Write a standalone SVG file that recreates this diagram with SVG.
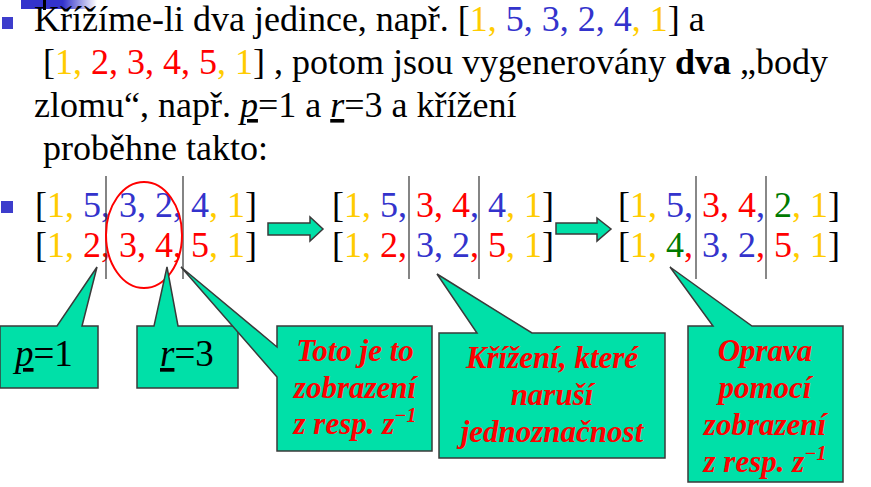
<svg xmlns="http://www.w3.org/2000/svg" width="871" height="487" viewBox="0 0 871 487">
  <style>
    .t { font-family: "Liberation Serif", "Times New Roman", serif; font-size: 36px; fill: #000; }
    .y { fill: #FFCC00; }
    .b { fill: #3333CC; }
    .r { fill: #FF0000; }
    .g { fill: #007A00; }
    .call { fill: #00E0A8; stroke: #3a3a3a; stroke-width: 1.5; stroke-linejoin: miter; }
    .note { font-family: "Liberation Serif", "Times New Roman", serif; font-size: 31px; font-weight: bold; font-style: italic; fill: #FF0000; text-anchor: middle; }
    .lbl { font-family: "Liberation Serif", "Times New Roman", serif; font-size: 37px; fill: #000; }
    .sep { stroke: #333; stroke-width: 1.2; }
    .sep2 { stroke: #888; stroke-width: 2; }
    .bullet { fill: #3d3dcc; }
  </style>
  <defs>
    <linearGradient id="barFade" x1="0" y1="0" x2="1" y2="0">
      <stop offset="0" stop-color="#3333cc"/>
      <stop offset="0.55" stop-color="#3333cc"/>
      <stop offset="1" stop-color="#3333cc" stop-opacity="0"/>
    </linearGradient>
  </defs>

  <rect width="871" height="487" fill="#fff"/>

  <!-- slide header remnant -->
  <rect x="21" y="0" width="76" height="9" fill="url(#barFade)"/>
  <rect x="43" y="0" width="3" height="10" fill="#000"/>

  <!-- bullets -->
  <rect class="bullet" x="2" y="17" width="11" height="12"/>
  <rect class="bullet" x="1" y="201" width="12" height="12"/>

  <!-- introductory paragraph -->
  <g id="intro">
    <text class="t" x="34" y="31">Křížíme-li dva jedince, např. [<tspan class="y">1, </tspan><tspan class="b">5, 3, 2, 4</tspan><tspan class="y">, 1</tspan>] a</text>
    <text class="t" x="43" y="74">[<tspan class="y">1, </tspan><tspan class="r">2, 3, 4, 5</tspan><tspan class="y">, 1</tspan>] , potom jsou vygenerovány <tspan font-weight="bold">dva</tspan> „body</text>
    <text class="t" x="34" y="117">zlomu“, např. <tspan font-style="italic" text-decoration="underline">p</tspan>=1 a <tspan font-style="italic" text-decoration="underline">r</tspan>=3 a křížení</text>
    <text class="t" x="43" y="160">proběhne takto:</text>
  </g>

  <!-- parents -->
  <g id="parents">
    <text class="t" x="35" y="217">[<tspan class="y">1, </tspan><tspan class="b">5, 3, 2, 4</tspan><tspan class="y">, 1</tspan>]</text>
    <text class="t" x="35" y="257">[<tspan class="y">1, </tspan><tspan class="r">2, 3, 4, 5</tspan><tspan class="y">, 1</tspan>]</text>
    <line class="sep" x1="106" y1="176" x2="106" y2="279"/>
    <line class="sep" x1="183" y1="176" x2="183" y2="279"/>
    <ellipse cx="144" cy="235" rx="38" ry="53" fill="none" stroke="#FF0000" stroke-width="2"/>
  </g>

  <!-- offspring after crossover -->
  <g id="offspring">
    <text class="t" x="332" y="217">[<tspan class="y">1, </tspan><tspan class="b">5, </tspan><tspan class="r">3, 4</tspan><tspan class="b">, 4</tspan><tspan class="y">, 1</tspan>]</text>
    <text class="t" x="332" y="257">[<tspan class="y">1, </tspan><tspan class="r">2, </tspan><tspan class="b">3, 2</tspan><tspan class="r">, 5</tspan><tspan class="y">, 1</tspan>]</text>
    <line class="sep" x1="409" y1="176" x2="409" y2="279"/>
    <line class="sep" x1="479" y1="176" x2="479" y2="279"/>
  </g>

  <!-- repaired offspring -->
  <g id="repaired">
    <text class="t" x="618" y="217">[<tspan class="y">1, </tspan><tspan class="b">5, </tspan><tspan class="r">3, 4</tspan><tspan class="b">, </tspan><tspan class="g">2</tspan><tspan class="y">, 1</tspan>]</text>
    <text class="t" x="618" y="257">[<tspan class="y">1, </tspan><tspan class="g">4</tspan><tspan class="r">, </tspan><tspan class="b">3, 2</tspan><tspan class="r">, 5</tspan><tspan class="y">, 1</tspan>]</text>
    <line class="sep2" x1="696" y1="176" x2="696" y2="279"/>
    <line class="sep2" x1="766" y1="176" x2="766" y2="279"/>
  </g>

  <!-- block arrows between stages -->
  <g id="connectors">
    <polygon class="call" points="268,223 310,223 310,217 323,229 310,241 310,235 268,235"/>
    <polygon class="call" points="556,223 597,223 597,218 611,229 597,241 597,234 556,234"/>
  </g>

  <!-- callouts -->
  <g id="callout-p">
    <path class="call" d="M0,326 L57,326 L97,267 L82,326 L98,326 L98,388 L0,388 Z"/>
    <text class="lbl" x="15" y="366"><tspan font-style="italic" text-decoration="underline">p</tspan>=1</text>
  </g>

  <g id="callout-r">
    <path class="call" d="M137,326 L154,326 L167,267 L178,326 L238,326 L238,388 L137,388 Z"/>
    <text class="lbl" x="160" y="366"><tspan font-style="italic" text-decoration="underline">r</tspan>=3</text>
  </g>

  <g id="callout-z">
    <path class="call" d="M277,326 L432,326 L432,451 L277,451 L277,377 L181,267 L277,347 Z"/>
    <text class="note" x="355" y="361">Toto je to</text>
    <text class="note" x="355" y="398">zobrazení</text>
    <text class="note" x="355" y="434">z resp. z<tspan font-size="20" dy="-12">−1</tspan></text>
  </g>

  <g id="callout-cross">
    <path class="call" d="M439,333 L477,333 L437,274 L532,333 L665,333 L665,458 L439,458 Z"/>
    <text class="note" x="552" y="368">Křížení, které</text>
    <text class="note" x="552" y="405">naruší</text>
    <text class="note" x="552" y="442">jednoznačnost</text>
  </g>

  <g id="callout-fix">
    <path class="call" d="M688,326 L713,326 L670,267 L752,326 L843,326 L843,482 L688,482 Z"/>
    <text class="note" x="765" y="361">Oprava</text>
    <text class="note" x="765" y="398">pomocí</text>
    <text class="note" x="765" y="435">zobrazení</text>
    <text class="note" x="765" y="472">z resp. z<tspan font-size="20" dy="-12">−1</tspan></text>
  </g>
</svg>
